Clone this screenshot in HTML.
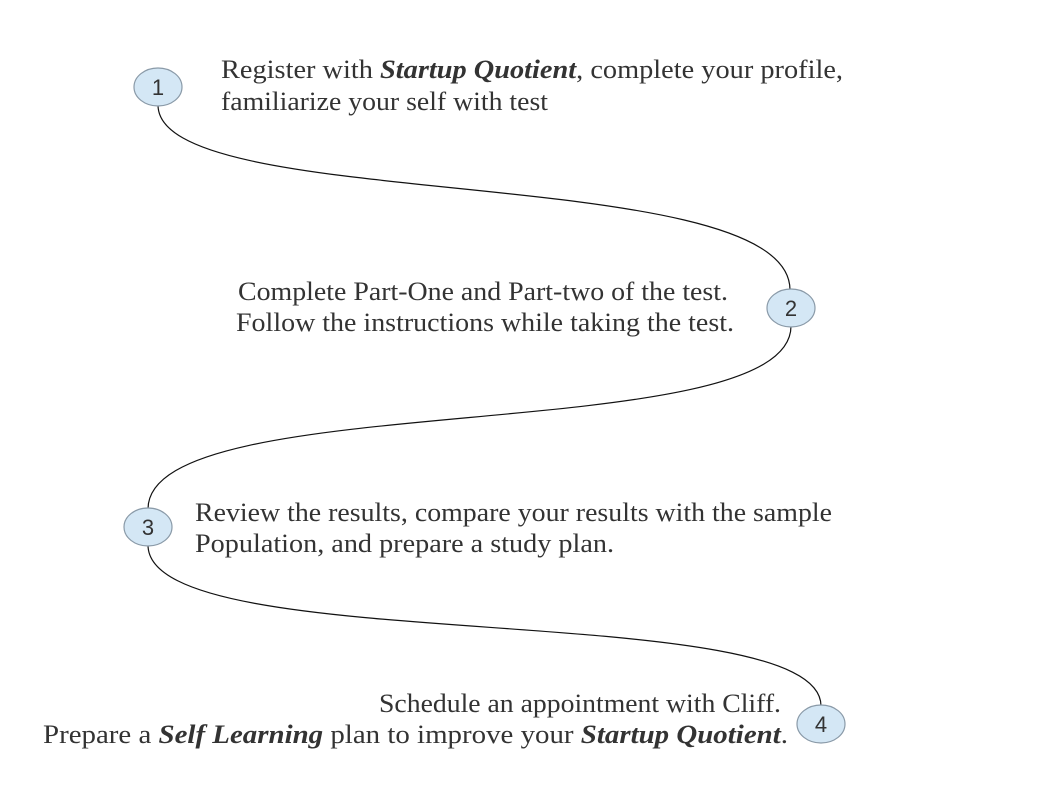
<!DOCTYPE html>
<html><head><meta charset="utf-8"><style>
html,body{margin:0;padding:0;background:#fff;}
svg{display:block;}
text{font-family:"Liberation Serif",serif;font-size:26px;fill:#333;}
.n{font-family:"Liberation Sans",sans-serif;font-size:22px;fill:#333;}
</style></head><body>
<svg width="1058" height="794" viewBox="0 0 1058 794">
<g fill="none" stroke="#111" stroke-width="1.2">
<path d="M158,105 C158,215 790,160 790,290"/>
<path d="M791,326 C791,450 148,385 148,509"/>
<path d="M148,545 C148,660 821,595 821,706"/>
</g>
<g>
<ellipse cx="158" cy="87" rx="24" ry="19" fill="#d4e7f5" stroke="#8a9aa8" stroke-width="1.2"/>
<text class="n" x="158" y="95" text-anchor="middle">1</text>
<text x="221" y="78" textLength="622" lengthAdjust="spacingAndGlyphs">Register with <tspan font-weight="bold" font-style="italic">Startup Quotient</tspan>, complete your profile,</text>
<text x="221" y="110" textLength="327" lengthAdjust="spacingAndGlyphs">familiarize your self with test</text>
</g>
<g>
<ellipse cx="791" cy="308" rx="24" ry="19" fill="#d4e7f5" stroke="#8a9aa8" stroke-width="1.2"/>
<text class="n" x="791" y="316" text-anchor="middle">2</text>
<text x="238" y="300" textLength="490" lengthAdjust="spacingAndGlyphs">Complete Part-One and Part-two of the test.</text>
<text x="236" y="331" textLength="498" lengthAdjust="spacingAndGlyphs">Follow the instructions while taking the test.</text>
</g>
<g>
<ellipse cx="148" cy="527" rx="24" ry="19" fill="#d4e7f5" stroke="#8a9aa8" stroke-width="1.2"/>
<text class="n" x="148" y="535" text-anchor="middle">3</text>
<text x="195" y="521" textLength="637" lengthAdjust="spacingAndGlyphs">Review the results, compare your results with the sample</text>
<text x="195" y="552" textLength="419" lengthAdjust="spacingAndGlyphs">Population, and prepare a study plan.</text>
</g>
<g>
<ellipse cx="821" cy="724" rx="24" ry="19" fill="#d4e7f5" stroke="#8a9aa8" stroke-width="1.2"/>
<text class="n" x="821" y="732" text-anchor="middle">4</text>
<text x="379" y="712" textLength="402" lengthAdjust="spacingAndGlyphs">Schedule an appointment with Cliff.</text>
<text x="43" y="743" textLength="745" lengthAdjust="spacingAndGlyphs">Prepare a <tspan font-weight="bold" font-style="italic">Self Learning</tspan> plan to improve your <tspan font-weight="bold" font-style="italic">Startup Quotient</tspan>.</text>
</g>
</svg>
</body></html>
